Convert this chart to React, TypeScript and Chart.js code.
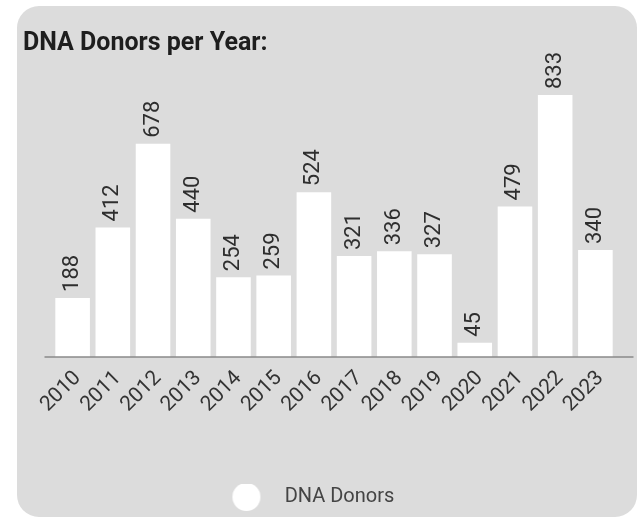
import React, { useEffect, useRef } from "react";
import { Chart, registerables } from "chart.js";

Chart.register(...registerables);

const years = ["2010", "2011", "2012", "2013", "2014", "2015", "2016", "2017", "2018", "2019", "2020", "2021", "2022", "2023"];
const donors = [188, 412, 678, 440, 254, 259, 524, 321, 336, 327, 45, 479, 833, 340];
const seriesLabel = "DNA Donors";
const chartTitle = "DNA Donors per Year:";
const yMax = 900;

export default function App() {
  const ref = useRef<HTMLCanvasElement>(null);

  useEffect(() => {
    document.body.style.margin = "0";
    const canvas = ref.current;
    if (!canvas) return;

    const legendDot = document.createElement("canvas");
    legendDot.width = 56;
    legendDot.height = 30;
    const dctx = legendDot.getContext("2d");
    if (dctx) {
      dctx.fillStyle = "#ffffff";
      dctx.beginPath();
      dctx.arc(15, 15, 14, 0, Math.PI * 2);
      dctx.fill();
    }

    const valueLabels = {
      id: "valueLabels",
      afterDatasetsDraw(chart: any) {
        const ctx = chart.ctx;
        const meta = chart.getDatasetMeta(0);
        const data = chart.data.datasets[0].data;
        ctx.save();
        ctx.font = "22px Roboto";
        ctx.fillStyle = "#2e2e2e";
        ctx.textAlign = "left";
        ctx.textBaseline = "middle";
        meta.data.forEach((bar: any, i: number) => {
          ctx.save();
          ctx.translate(bar.x, bar.y - 6);
          ctx.rotate(-Math.PI / 2);
          ctx.fillText(String(data[i]), 0, 0);
          ctx.restore();
        });
        ctx.restore();
      },
    };

    const baseLine = {
      id: "baseLine",
      afterDatasetsDraw(chart: any) {
        const { ctx, chartArea } = chart;
        ctx.save();
        ctx.strokeStyle = "#8a8a8a";
        ctx.lineWidth = 1.5;
        ctx.beginPath();
        ctx.moveTo(chartArea.left - 8, chartArea.bottom);
        ctx.lineTo(chartArea.right + 18, chartArea.bottom);
        ctx.stroke();
        ctx.restore();
      },
    };

    const chart = new Chart(canvas, {
      type: "bar",
      data: {
        labels: years,
        datasets: [
          {
            label: seriesLabel,
            data: donors,
            backgroundColor: "#ffffff",
            borderWidth: 0,
            categoryPercentage: 1,
            barPercentage: 0.86,
          },
        ],
      },
      options: {
        responsive: false,
        animation: false,
        layout: { padding: { left: 6, right: 21.5, top: 0, bottom: 0 } },
        scales: {
          x: {
            grid: { display: false, drawTicks: false },
            border: { display: false },
            ticks: {
              color: "#333333",
              font: { family: "Roboto", size: 21 },
              minRotation: 45,
              maxRotation: 45,
              padding: 9,
              labelOffset: 5,
            },
            afterFit: (s: any) => {
              s.height = 127;
            },
          },
          y: {
            min: 0,
            max: yMax,
            grid: { display: false, drawTicks: false },
            border: { display: false },
            ticks: { display: false },
            afterFit: (s: any) => {
              s.width = 29.5;
            },
          },
        },
        plugins: {
          title: {
            display: true,
            text: chartTitle,
            align: "start",
            color: "#1e1e1e",
            font: { family: "Roboto", size: 25, weight: "bold" },
            padding: { top: 23, bottom: 15 },
          },
          legend: {
            position: "bottom",
            labels: {
              usePointStyle: true,
              pointStyle: legendDot as any,
              pointStyleWidth: 30.5,
              color: "#444444",
              font: { family: "Roboto", size: 20 },
              padding: 3,
            },
          },
          tooltip: { enabled: false },
        },
      },
      plugins: [valueLabels, baseLine],
    });

    return () => chart.destroy();
  }, []);

  return (
    <div style={{ position: "relative", width: 641, height: 519, background: "#ffffff" }}>
      <div
        style={{
          position: "absolute",
          left: 17,
          top: 6,
          width: 620,
          height: 511,
          background: "#dcdcdc",
          borderRadius: 22,
          overflow: "hidden",
        }}
      >
        <canvas ref={ref} width={620} height={511} style={{ display: "block" }} />
      </div>
    </div>
  );
}
